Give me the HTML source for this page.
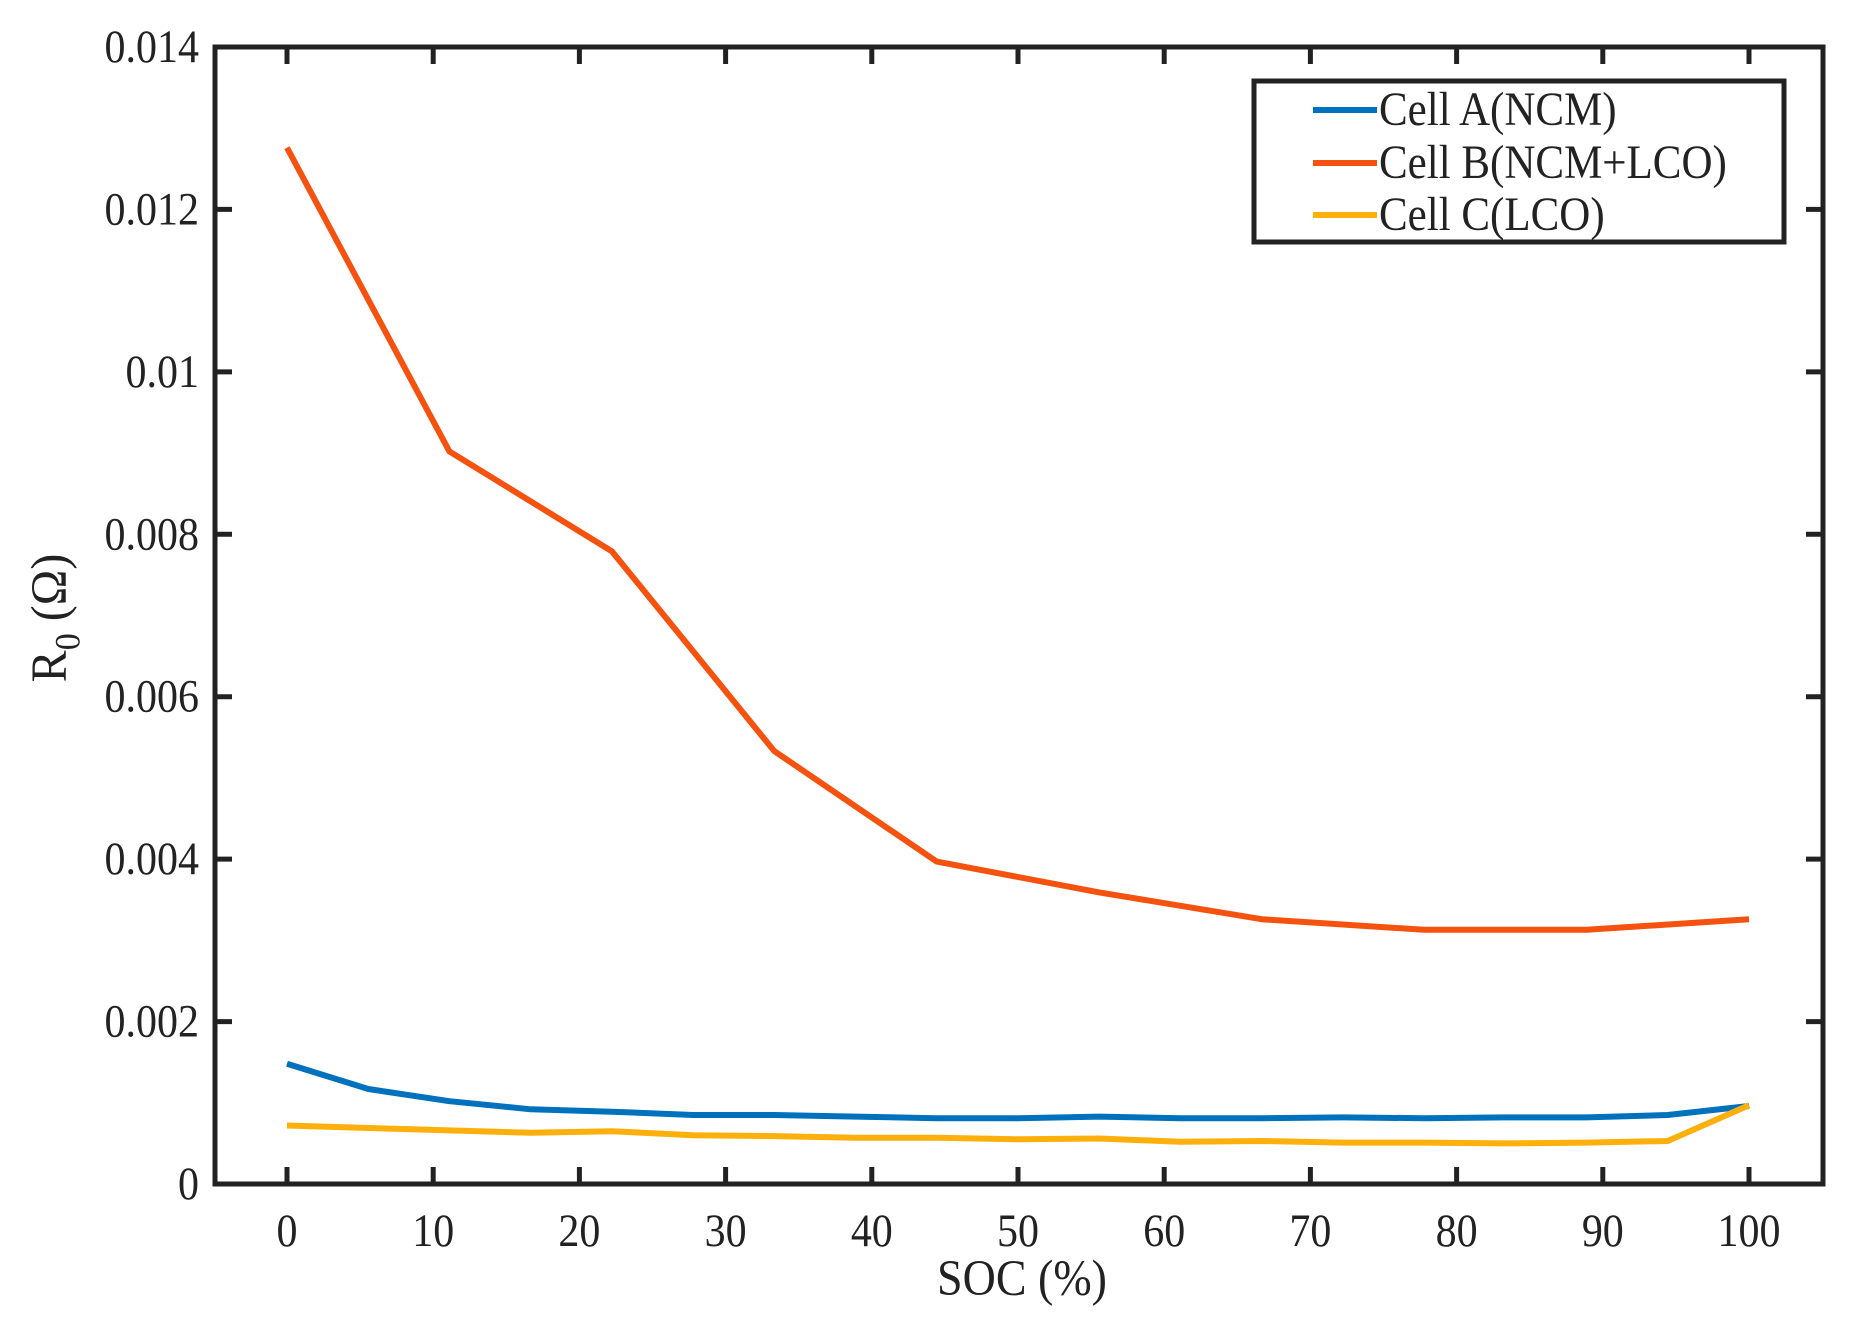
<!DOCTYPE html>
<html><head><meta charset="utf-8"><style>
body{margin:0;background:#fff}
svg text{font-family:"Liberation Serif",serif;fill:#222}
</style></head><body>
<svg id="chart" width="1861" height="1335" viewBox="0 0 1861 1335" xmlns="http://www.w3.org/2000/svg">
<g id="plot"></g>
<text transform="translate(1022,1295) scale(1,1.1)" font-size="46" text-anchor="middle">SOC (%)</text>
<text transform="translate(66,618) rotate(-90) scale(1,1.05)" font-size="48" text-anchor="middle">R<tspan font-size="34" dy="13">0</tspan><tspan dy="-13"> (Ω)</tspan></text>
<g>
<rect x="1254" y="81" width="530" height="161" fill="#fff" stroke="#222" stroke-width="5"/>
<line x1="1313" y1="110" x2="1377" y2="110" stroke="#0072BD" stroke-width="6"/>
<text transform="translate(1379,125) scale(1,1.1)" font-size="43">Cell A(NCM)</text>
<line x1="1313" y1="163" x2="1377" y2="163" stroke="#F5520F" stroke-width="6"/>
<text transform="translate(1379,178) scale(1,1.1)" font-size="43">Cell B(NCM+LCO)</text>
<line x1="1313" y1="215" x2="1377" y2="215" stroke="#FDB00C" stroke-width="6"/>
<text transform="translate(1379,230) scale(1,1.1)" font-size="43">Cell C(LCO)</text>
</g>
</svg>
<script>
const socA = [0,5.56,11.11,16.67,22.22,27.78,33.33,38.89,44.44,50,55.56,61.11,66.67,72.22,77.78,83.33,88.89,94.44,100];
const cellA = [0.00148,0.00117,0.00102,0.00092,0.00089,0.00085,0.00085,0.00083,0.00081,0.00081,0.00083,0.00081,0.00081,0.00082,0.00081,0.00082,0.00082,0.00085,0.00096];
const cellC = [0.00072,0.00069,0.00066,0.00063,0.00065,0.00060,0.00059,0.00057,0.00057,0.00055,0.00056,0.00052,0.00053,0.00051,0.00051,0.00050,0.00051,0.00053,0.00097];
const socB = [0,11.11,22.22,33.33,44.44,55.56,66.67,77.78,88.89,100];
const cellB = [0.01276,0.00902,0.00779,0.00533,0.00397,0.00359,0.00326,0.00313,0.00313,0.00326];
const xTicks = [0,10,20,30,40,50,60,70,80,90,100];
const yTicks = [0,0.002,0.004,0.006,0.008,0.01,0.012,0.014];
const yTickLabels = ["0","0.002","0.004","0.006","0.008","0.01","0.012","0.014"];

const L=215,R=1823,T=47,B=1184;
const xs=v=>287+v*14.62;
const ys=v=>B-(v/0.014)*(B-T);
const NS="http://www.w3.org/2000/svg";
const g=document.getElementById('plot');
function mk(tag,attrs){const e=document.createElementNS(NS,tag);for(const k in attrs)e.setAttribute(k,attrs[k]);g.appendChild(e);return e;}
function series(xsArr,ysArr,color,name){
  const d=xsArr.map((x,i)=>(i?'L':'M')+xs(x).toFixed(1)+','+ys(ysArr[i]).toFixed(1)).join(' ');
  const p=mk('path',{d:d,fill:'none',stroke:color,'stroke-width':6,'stroke-linejoin':'round'});
  
  
}
series(socB,cellB,'#F5520F','series-cell-b');
series(socA,cellA,'#0072BD','series-cell-a');
series(socA,cellC,'#FDB00C','series-cell-c');
xTicks.forEach((v,i)=>{
  const x=xs(v);
  const t1=mk('line',{x1:x,y1:B,x2:x,y2:B-17,stroke:'#222','stroke-width':5});
  
  
  const t2=mk('line',{x1:x,y1:T,x2:x,y2:T+17,stroke:'#222','stroke-width':5});
  
  
  const tx=mk('text',{transform:'translate('+x+',1246) scale(1,1.12)','font-size':42,'text-anchor':'middle'});
  tx.textContent=String(v);
  
  
});
yTicks.forEach((v,i)=>{
  const y=ys(v);
  const t1=mk('line',{x1:L,y1:y,x2:L+17,y2:y,stroke:'#222','stroke-width':5});
  
  
  const t2=mk('line',{x1:R,y1:y,x2:R-17,y2:y,stroke:'#222','stroke-width':5});
  
  
  const tx=mk('text',{transform:'translate(199,'+(y+15)+') scale(1,1.12)','font-size':42,'text-anchor':'end'});
  tx.textContent=yTickLabels[i];
  
  
});
const box=mk('rect',{x:L,y:T,width:R-L,height:B-T,fill:'none',stroke:'#222','stroke-width':5});


</script>
</body></html>
